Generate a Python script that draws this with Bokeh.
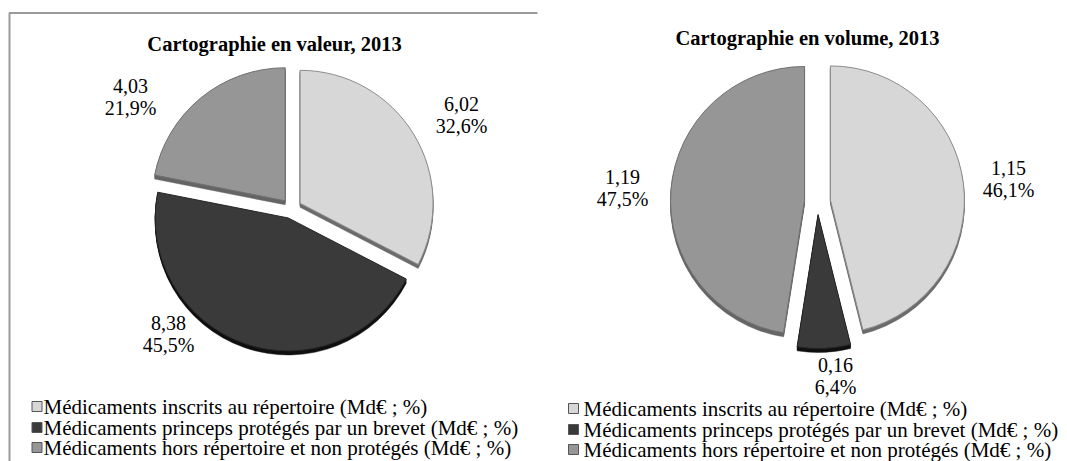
import numpy as np
from bokeh.plotting import figure
from bokeh.models import Range1d, ColumnDataSource
from bokeh.core.properties import value
from bokeh.embed import file_html
from bokeh.resources import INLINE

# ---------------- data ----------------
categories = [
    "Médicaments inscrits au répertoire (Md€ ; %)",
    "Médicaments princeps protégés par un brevet (Md€ ; %)",
    "Médicaments hors répertoire et non protégés (Md€ ; %)",
]
valeur_mde = [6.02, 8.38, 4.03]
valeur_pct = [32.6, 45.5, 21.9]
volume_mde = [1.15, 0.16, 1.19]
volume_pct = [46.1, 6.4, 47.5]
titles = ["Cartographie en valeur, 2013", "Cartographie en volume, 2013"]

# ---------------- style / layout ----------------
colors = ["#d7d7d7", "#3a3a3a", "#969696"]
side_colors = ["#6c6c6c", "#111111", "#666666"]
edge_colors = ["#8c8c8c", "#262626", "#707070"]
FONT = "Liberation Serif"
W, H = 1067, 461

pies = [
    dict(values=valeur_mde, pct=valeur_pct, title=titles[0],
         cx=291, cy=208, r=133, explode=10, depth=4,
         title_xy=(274, 43),
         label_off=[(170, -94), (-123, 125), (-161, -112)],
         leg_sq_x=36.5, leg_tx=43, leg_y=[406, 427, 447]),
    dict(values=volume_mde, pct=volume_pct, title=titles[1],
         cx=817, cy=201, r=134, explode=13, depth=4,
         title_xy=(807, 37),
         label_off=[(191, -23), (18, 174), (-195, -14)],
         leg_sq_x=573, leg_tx=583, leg_y=[408, 429, 449]),
]

p = figure(width=W, height=H, output_backend="svg", toolbar_location=None,
           x_range=Range1d(0, W), y_range=Range1d(-H, 0),
           min_border=0)
p.axis.visible = False
p.grid.visible = False
p.outline_line_color = None
p.background_fill_color = "white"

# frame of the left chart (top and left edges only)
p.line(x=[9, 9, 537], y=[-470, -12.5, -12.5], line_color="#9a9a9a", line_width=2)


def fmt_val(v):
    return f"{v:.2f}".replace(".", ",")


def fmt_pct(v):
    return f"{v:.1f}%".replace(".", ",")


for pie in pies:
    pct = np.array(pie["pct"], dtype=float)
    frac = pct / pct.sum()
    c1 = np.cumsum(frac)
    c0 = c1 - frac
    start = np.pi / 2 - c1 * 2 * np.pi
    end = np.pi / 2 - c0 * 2 * np.pi
    mid = (start + end) / 2
    xs = pie["cx"] + pie["explode"] * np.cos(mid)
    ys = -pie["cy"] + pie["explode"] * np.sin(mid)

    # extrusion (3D depth)
    for d in range(pie["depth"], 0, -1):
        src = ColumnDataSource(dict(x=xs, y=ys - d, s=start, e=end, c=side_colors))
        p.wedge(x="x", y="y", radius=pie["r"], start_angle="s", end_angle="e",
                source=src, fill_color="c", line_color="c", line_width=0.5)
    src = ColumnDataSource(dict(x=xs, y=ys, s=start, e=end, c=colors, lc=edge_colors))
    p.wedge(x="x", y="y", radius=pie["r"], start_angle="s", end_angle="e",
            source=src, fill_color="c", line_color="lc", line_width=1)

    # data labels
    lx = [pie["cx"] + o[0] for o in pie["label_off"]]
    ly = [-pie["cy"] - o[1] for o in pie["label_off"]]
    lsrc = ColumnDataSource(dict(
        x=lx, y1=[y + 11 for y in ly], y2=[y - 11 for y in ly],
        t1=[fmt_val(v) for v in pie["values"]],
        t2=[fmt_pct(v) for v in pie["pct"]]))
    for ycol, tcol in (("y1", "t1"), ("y2", "t2")):
        p.text(x="x", y=ycol, text=tcol, source=lsrc, text_align="center",
               text_baseline="middle", text_font=value(FONT),
               text_font_size="20px", text_color="#000000")

    # title
    p.text(x=[pie["title_xy"][0]], y=[-pie["title_xy"][1]], text=[pie["title"]],
           text_align="center", text_baseline="middle", text_font=value(FONT),
           text_font_style="bold", text_font_size="20.5px", text_color="#000000")

    # legend
    ly_leg = [-y for y in pie["leg_y"]]
    p.scatter(x=[pie["leg_sq_x"]] * 3, y=ly_leg, marker="square", size=10,
              fill_color=colors, line_color="#555555", line_width=1)
    p.text(x=[pie["leg_tx"]] * 3, y=ly_leg, text=categories, text_align="left",
           text_baseline="middle", text_font=value(FONT), text_font_size="21px",
           text_color="#000000")

open("out.html", "w").write(file_html(p, INLINE))
